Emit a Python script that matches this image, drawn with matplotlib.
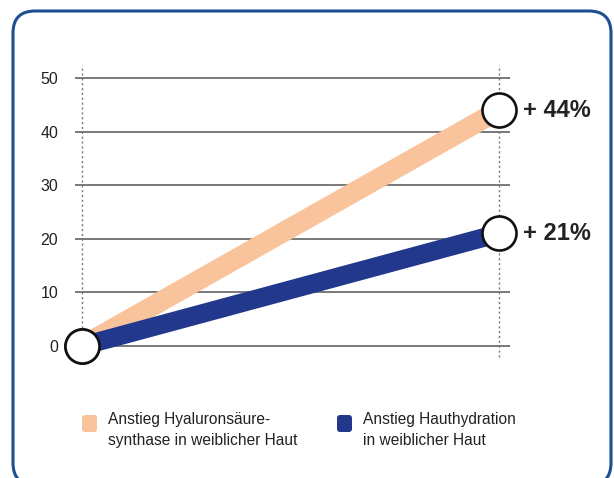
import matplotlib
matplotlib.use("Agg")
import matplotlib.pyplot as plt
from matplotlib.patches import FancyBboxPatch

plt.rcParams["font.family"] = ["Liberation Sans", "DejaVu Sans"]

# data
time_points = [0, 1]
hyaluron = [0, 44]
hydration = [0, 21]
end_labels = ["+ 44%", "+ 21%"]
yticks = [0, 10, 20, 30, 40, 50]
legend_labels = ["Anstieg Hyaluronsäure-\nsynthase in weiblicher Haut",
                 "Anstieg Hauthydration\nin weiblicher Haut"]

ORANGE = "#f9c49c"
BLUE = "#21388c"
FRAME = "#1c5090"
TXT = "#222222"

W, H = 614, 478
fig = plt.figure(figsize=(W / 100, H / 100), dpi=100)

# rounded frame
frame = FancyBboxPatch((0.13, -0.07), 5.98, 4.74,
                       boxstyle="round,pad=0,rounding_size=0.22",
                       transform=fig.dpi_scale_trans, fill=False,
                       edgecolor=FRAME, linewidth=2.2)
fig.patches.append(frame)

# axes in pixel geometry
ax_l, ax_r, ax_t, ax_b = 75, 510, 62, 360
ax = fig.add_axes([ax_l / W, (H - ax_b) / H, (ax_r - ax_l) / W, (ax_b - ax_t) / H])
ax.set_facecolor("none")
px_per_x = (499 - 82) / 1.0
ax.set_xlim(-(82 - ax_l) / px_per_x, 1 + (ax_r - 499) / px_per_x)
px_per_y = (346 - 78) / 50
ax.set_ylim(-(ax_b - 346) / px_per_y, 50 + (78 - ax_t) / px_per_y)

for s in ax.spines.values():
    s.set_visible(False)
ax.set_xticks([])
ax.set_yticks(yticks)
ax.set_yticklabels([str(v) for v in yticks], fontsize=11.5, color=TXT)
ax.tick_params(axis="y", length=0, pad=12)

for v in yticks:
    ax.axhline(v, color="#555555", lw=1.1, zorder=1)
for x in time_points:
    ax.axvline(x, ymin=0.01, ymax=0.99, color="#777777", lw=1, ls=(0, (1.5, 2)), zorder=1)

ax.plot(time_points, hyaluron, color=ORANGE, lw=14.5, solid_capstyle="butt", zorder=2)
ax.plot(time_points, hydration, color=BLUE, lw=13.5, solid_capstyle="butt", zorder=3)

for series in (hyaluron, hydration):
    ax.plot(time_points, series, ls="none", marker="o", markersize=24.5,
            markerfacecolor="white", markeredgecolor="#111111",
            markeredgewidth=1.9, zorder=4, clip_on=False)

for series, lab in zip((hyaluron, hydration), end_labels):
    ax.annotate(lab, (time_points[-1], series[-1]), xytext=(17, 0),
                textcoords="offset points", ha="left", va="center",
                fontsize=17, fontweight="bold", color=TXT, annotation_clip=False)

# legend
for (x0, col), lab in zip([(82, ORANGE), (337, BLUE)], legend_labels):
    sq = FancyBboxPatch((x0 / 100, (H - 432) / 100), 0.15, 0.17,
                        boxstyle="round,pad=0,rounding_size=0.03",
                        transform=fig.dpi_scale_trans, facecolor=col,
                        edgecolor="none")
    fig.patches.append(sq)
    fig.text((x0 + 26) / W, (H - 412) / H, lab, ha="left", va="top",
             fontsize=11.2, color=TXT, linespacing=1.5)

fig.savefig("out.png", dpi=100)
